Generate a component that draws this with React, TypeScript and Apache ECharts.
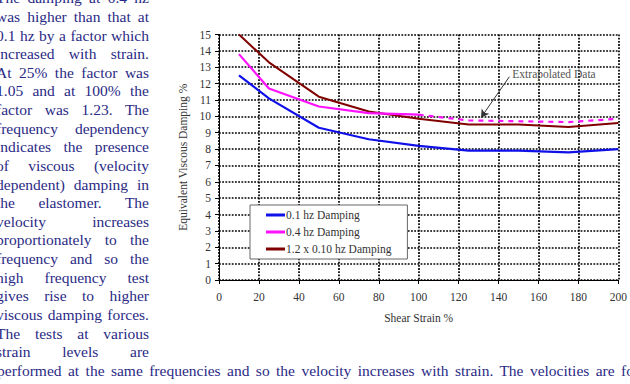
import React, { useEffect, useRef } from "react";
import * as echarts from "echarts";

// Shear strain (%) at which damping was measured
const strain = [10, 25, 50, 75, 100, 125, 150, 175, 200];
// 0.1 hz equivalent viscous damping (%)
const damping01 = [12.5, 11.1, 9.3, 8.6, 8.2, 7.9, 7.9, 7.8, 8.0];
// 1.2 x the 0.1 hz damping (%)
const damping01Scaled = [15.0, 13.3, 11.2, 10.3, 9.85, 9.5, 9.5, 9.35, 9.6];
// 0.4 hz measured range
const strain04 = [10, 25, 50, 75, 100];
const damping04 = [13.8, 11.7, 10.6, 10.2, 10.1];
// 0.4 hz extrapolated range
const strain04Extrap = [100, 125, 150, 175, 200];
const damping04Extrap = [10.1, 9.75, 9.7, 9.65, 9.85];

const seriesNames = ["0.1 hz Damping", "0.4 hz Damping", "1.2 x 0.10 hz Damping"];
const seriesColors = ["#1010e8", "#ff10ff", "#800000"];

// Arrow of the "Extrapolated Data" note, in data units (strain, damping)
const noteArrowFrom = [145.4, 12.42];
const noteArrowTo = [131.2, 9.92];
const noteText = "Extrapolated Data";

// Body text that runs beside the figure
const sideLines = [
  "The damping at 0.4 hz",
  "was higher than that at",
  "0.1 hz by a factor which",
  "increased with strain.",
  "At 25% the factor was",
  "1.05 and at 100% the",
  "factor was 1.23.   The",
  "frequency dependency",
  "indicates the presence",
  "of viscous (velocity",
  "dependent) damping in",
  "the elastomer.  The",
  "velocity increases",
  "proportionately to the",
  "frequency and so the",
  "high frequency test",
  "gives rise to higher",
  "viscous damping forces.",
  "The tests at various",
  "strain levels are",
];
const fullLine =
  "performed at the same frequencies and so the velocity increases with strain. The velocities are fo";

const serif = "'Liberation Serif', 'DejaVu Serif', serif";
const pair = (xs: number[], ys: number[]) => xs.map((x, i) => [x, ys[i]]);

export default function App() {
  const ref = useRef<HTMLDivElement>(null);

  useEffect(() => {
    if (!ref.current) return;
    const chart = echarts.init(ref.current, null, { renderer: "svg" });
    const dotted = { color: "#000", width: 1.7, type: [1.8, 1.4] as number[] };
    const lbl = { fontFamily: serif, fontSize: 11.5, color: "#333" };
    chart.setOption({
      animation: false,
      grid: { left: 219, right: 11, top: 34.5, bottom: 104 },
      legend: {
        data: seriesNames,
        orient: "vertical",
        left: 250,
        top: 205,
        backgroundColor: "#fff",
        borderColor: "#666",
        borderWidth: 1,
        padding: [3, 16, 3, 16],
        itemWidth: 19,
        itemHeight: 3,
        itemGap: 3,
        icon: "rect",
        textStyle: { fontFamily: serif, fontSize: 11.5, color: "#333", lineHeight: 14, padding: [0, 0, 0, -4] },
      },
      xAxis: {
        type: "value",
        min: 0,
        max: 200,
        interval: 20,
        name: "Shear Strain %",
        nameLocation: "middle",
        nameGap: 32,
        nameTextStyle: { ...lbl },
        axisLine: { lineStyle: { color: "#000", width: 1 } },
        axisTick: { show: true, length: 4, lineStyle: { color: "#000" } },
        axisLabel: { ...lbl, margin: 11 },
        splitLine: { show: true, lineStyle: dotted },
      },
      yAxis: {
        type: "value",
        min: 0,
        max: 15,
        interval: 1,
        name: "Equivalent Viscous Damping %",
        nameLocation: "middle",
        nameGap: 20,
        nameTextStyle: { ...lbl },
        axisLine: { show: true, lineStyle: { color: "#000", width: 1 } },
        axisTick: { show: true, length: 4, lineStyle: { color: "#000" } },
        axisLabel: { ...lbl, margin: 8 },
        splitLine: { show: true, lineStyle: dotted },
      },
      series: [
        {
          name: seriesNames[0],
          type: "line",
          data: pair(strain, damping01),
          showSymbol: false,
          color: seriesColors[0],
          lineStyle: { width: 2.2 },
          z: 3,
        },
        {
          name: seriesNames[1],
          type: "line",
          data: pair(strain04, damping04),
          showSymbol: false,
          color: seriesColors[1],
          lineStyle: { width: 2.2 },
          z: 4,
        },
        {
          name: "0.4 hz extrapolated",
          type: "line",
          data: pair(strain04Extrap, damping04Extrap),
          showSymbol: false,
          color: seriesColors[1],
          lineStyle: { width: 2.2, type: [5, 5] },
          z: 4,
          markLine: {
            silent: true,
            symbol: ["none", "arrow"],
            symbolSize: [7, 8],
            lineStyle: { color: "#333", width: 1, type: "solid" },
            label: { show: false },
            data: [[{ coord: noteArrowFrom }, { coord: noteArrowTo }]],
          },
        },
        {
          name: seriesNames[2],
          type: "line",
          data: pair(strain, damping01Scaled),
          showSymbol: false,
          color: seriesColors[2],
          lineStyle: { width: 2 },
          z: 3,
        },
      ],
    });
    const p = chart.convertToPixel({ gridIndex: 0 }, noteArrowFrom) as number[];
    chart.setOption({
      graphic: [
        {
          type: "text",
          x: p[0] + 3,
          y: p[1] - 3,
          style: {
            text: noteText,
            fontFamily: serif,
            fontSize: 11.5,
            fill: "#555",
            verticalAlign: "middle",
            align: "left",
          },
        },
      ],
    });
    return () => chart.dispose();
  }, []);

  const lineH = 18.62;
  const firstCenter = -1.3;

  return (
    <div
      style={{
        position: "fixed",
        left: 0,
        top: 0,
        width: 630,
        height: 384,
        overflow: "hidden",
        background: "#fff",
      }}
    >
      <div ref={ref} style={{ position: "absolute", left: 0, top: 0, width: 630, height: 384 }} />
      {sideLines.map((t, i) => (
        <div
          key={i}
          style={{
            position: "absolute",
            left: -4,
            width: 153,
            top: firstCenter + i * lineH - lineH / 2,
            height: lineH,
            lineHeight: `${lineH}px`,
            fontFamily: serif,
            fontSize: 15.5,
            color: "#2a2a85",
            textAlign: "justify",
            textAlignLast: "justify",
            whiteSpace: "normal",
            pointerEvents: "none",
          }}
        >
          {t}
        </div>
      ))}
      <div
        style={{
          position: "absolute",
          left: -3,
          width: 637,
          top: firstCenter + sideLines.length * lineH - lineH / 2,
          height: lineH,
          lineHeight: `${lineH}px`,
          fontFamily: serif,
          fontSize: 15.5,
          color: "#2a2a85",
          textAlign: "justify",
          textAlignLast: "justify",
          pointerEvents: "none",
        }}
      >
        {fullLine}
      </div>
    </div>
  );
}
